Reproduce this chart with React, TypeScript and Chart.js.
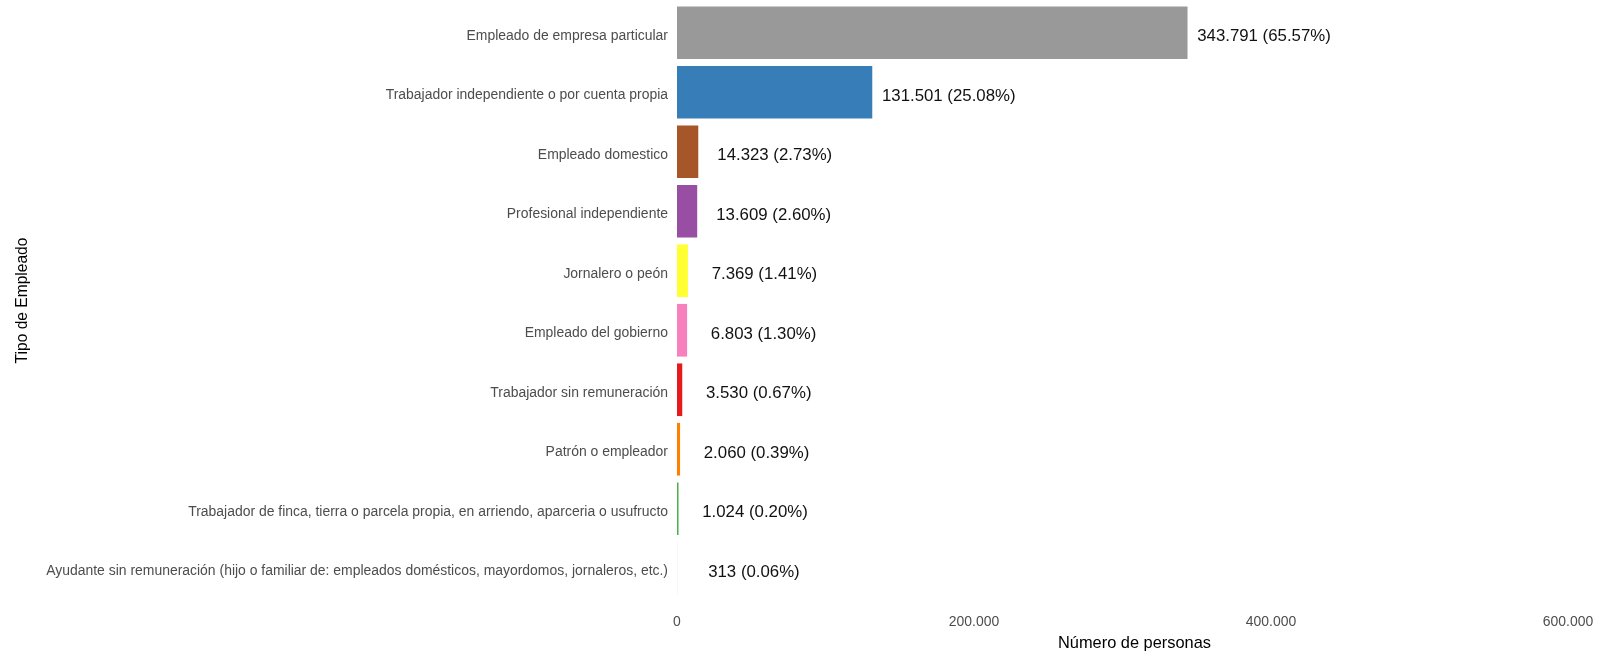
import React, { useEffect, useRef } from "react";
import { Chart, registerables } from "chart.js";

Chart.register(...registerables);

const categories = [
  "Empleado de empresa particular",
  "Trabajador independiente o por cuenta propia",
  "Empleado domestico",
  "Profesional independiente",
  "Jornalero o peón",
  "Empleado del gobierno",
  "Trabajador sin remuneración",
  "Patrón o empleador",
  "Trabajador de finca, tierra o parcela propia, en arriendo, aparceria o usufructo",
  "Ayudante sin remuneración (hijo o familiar de: empleados domésticos, mayordomos, jornaleros, etc.)",
];

const values = [343791, 131501, 14323, 13609, 7369, 6803, 3530, 2060, 1024, 313];

const barColors = [
  "#999999",
  "#377EB8",
  "#A65628",
  "#984EA3",
  "#FFFF33",
  "#F781BF",
  "#E41A1C",
  "#FF7F00",
  "#4DAF4A",
  "#E6F2EE",
];

const xTicks = [0, 200000, 400000, 600000];
const xTitle = "Número de personas";
const yTitle = "Tipo de Empleado";

function fmtThousands(n: number): string {
  const s = Math.round(n).toString();
  return s.replace(/\B(?=(\d{3})+(?!\d))/g, ".");
}

function hasFont(name: string): boolean {
  const c = document.createElement("canvas").getContext("2d");
  if (!c) return false;
  const s = "abcdefghijklmnopqrstuvwxyz0123456789ABCDEFG";
  c.font = "20px monospace";
  const w0 = c.measureText(s).width;
  c.font = `20px '${name}', monospace`;
  const w1 = c.measureText(s).width;
  return Math.abs(w0 - w1) > 0.5;
}

export default function App() {
  const ref = useRef<HTMLCanvasElement | null>(null);

  useEffect(() => {
    if (!ref.current) return;
    const narrow = hasFont("Liberation Sans Narrow");
    const family = narrow
      ? "'Liberation Sans Narrow', 'Liberation Sans', Arial, sans-serif"
      : "'Liberation Sans', Arial, sans-serif";
    const k = narrow ? 1 : 0.82;

    const total = values.reduce((a, b) => a + b, 0);
    const labelOffsetValue = 51500;

    const valueLabels = {
      id: "valueLabels",
      afterDatasetsDraw(chart: any) {
        const { ctx } = chart;
        const xs = chart.scales.x;
        const ys = chart.scales.y;
        ctx.save();
        ctx.font = `${20.5 * k}px ${family}`;
        ctx.fillStyle = "#111111";
        ctx.textAlign = "center";
        ctx.textBaseline = "middle";
        values.forEach((v, i) => {
          const pct = ((v / total) * 100).toFixed(2);
          const text = `${fmtThousands(v)} (${pct}%)`;
          const x = xs.getPixelForValue(v + labelOffsetValue);
          const y = ys.getPixelForValue(i) + 4;
          ctx.fillText(text, x, y);
        });
        // x axis title
        const ca = chart.chartArea;
        ctx.font = `${20 * k}px ${family}`;
        ctx.fillStyle = "#000000";
        ctx.textAlign = "center";
        ctx.textBaseline = "middle";
        ctx.fillText(xTitle, (ca.left + ca.right) / 2 + 12, chart.height - 11);
        ctx.restore();
      },
    };

    const chart = new Chart(ref.current, {
      type: "bar",
      data: {
        labels: categories,
        datasets: [
          {
            data: values,
            backgroundColor: barColors,
            borderWidth: 0,
            categoryPercentage: 1,
            barPercentage: 0.885,
          },
        ],
      },
      options: {
        indexAxis: "y",
        animation: false,
        responsive: false,
        maintainAspectRatio: false,
        layout: { padding: { top: 3, right: 36, left: 0, bottom: 0 } },
        plugins: {
          legend: { display: false },
          tooltip: { enabled: false },
        },
        scales: {
          x: {
            type: "linear",
            min: 0,
            max: 600000,
            afterBuildTicks(scale: any) {
              scale.ticks = xTicks.map((v) => ({ value: v }));
            },
            afterFit(scale: any) {
              scale.height = 56;
              scale.paddingLeft = 0;
              scale.paddingRight = 0;
            },
            grid: { display: false, drawTicks: false },
            border: { display: false },
            ticks: {
              color: "#4D4D4D",
              font: { family, size: 17 * k },
              padding: 16,
              callback: (v: any) => fmtThousands(Number(v)),
            },
            title: { display: false },
          },
          y: {
            type: "category",
            afterFit(scale: any) {
              scale.width = 677;
              scale.paddingTop = 0;
              scale.paddingBottom = 0;
            },
            grid: { display: false, drawTicks: false },
            border: { display: false },
            ticks: {
              color: "#4D4D4D",
              font: { family, size: 17 * k },
              padding: 9,
              labelOffset: 3,
              autoSkip: false,
            },
            title: {
              display: true,
              text: yTitle,
              color: "#000000",
              font: { family, size: 19 * k },
              padding: { top: 13, bottom: 0 },
            },
          },
        },
      },
      plugins: [valueLabels],
    });
    return () => chart.destroy();
  }, []);

  return (
    <div style={{ position: "absolute", left: 0, top: 0, width: 1604, height: 654, background: "#ffffff" }}>
      <canvas ref={ref} width={1604} height={654} style={{ display: "block", width: 1604, height: 654 }} />
    </div>
  );
}
